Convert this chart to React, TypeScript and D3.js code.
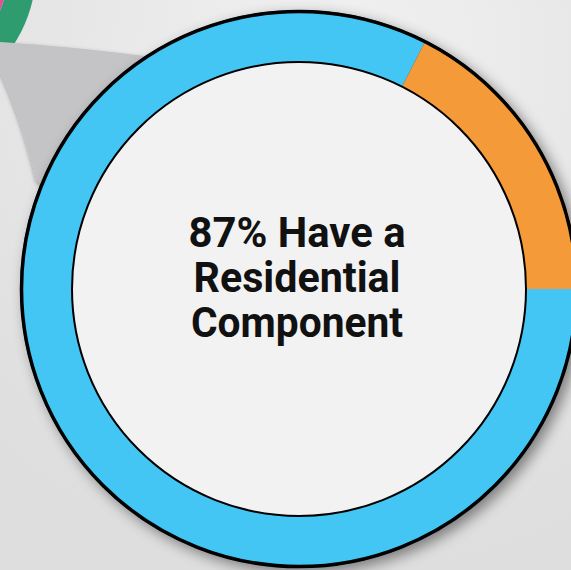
import React from "react";
import * as d3 from "d3";

const categories = ["Residential", "Other"];
const values = [82.5, 17.5];
const colors = ["#43c6f3", "#f59a38"];
const labelLines = ["87% Have a", "Residential", "Component"];
const labelWidths = [217, 207, 212];

const W = 571;
const H = 570;

export default function App() {
  const cx = 299;
  const cy = 289;
  const rOuter = 279;
  const rInner = 227;

  const data = categories.map((c, i) => ({ c, v: values[i], color: colors[i] }));
  const pie = d3
    .pie<any>()
    .value((d) => d.v)
    .sort(null)
    .startAngle(Math.PI / 2)
    .endAngle(Math.PI / 2 + 2 * Math.PI);
  const arcs = pie(data);
  const arcGen = d3.arc<any>().innerRadius(rInner).outerRadius(rOuter);

  const nArc = d3.arc<any>().innerRadius(108).outerRadius(136);

  const lineY = d3.scaleLinear().domain([0, 2]).range([247, 337]);

  return (
    <svg
      width={W}
      height={H}
      style={{ position: "absolute", left: 0, top: 0, display: "block" }}
    >
      <defs>
        <filter id="shadow" x="-20%" y="-20%" width="140%" height="140%">
          <feDropShadow dx="5" dy="5" stdDeviation="7" floodColor="#000" floodOpacity="0.45" />
        </filter>
        <filter id="soft" x="-20%" y="-20%" width="140%" height="140%">
          <feDropShadow dx="0" dy="2" stdDeviation="2" floodColor="#000" floodOpacity="0.35" />
        </filter>
        <radialGradient id="bg" cx="0.6" cy="0.1" r="0.9">
          <stop offset="0" stopColor="#f1f1f1" />
          <stop offset="1" stopColor="#dedede" />
        </radialGradient>
      </defs>
      <rect x={0} y={0} width={W} height={H} fill="url(#bg)" />
      {/* neighbouring ring fragment */}
      <g transform="translate(-100,-30)">
        <path
          d={nArc({ startAngle: Math.PI * 0.3, endAngle: Math.PI * 1.0 }) || ""}
          fill="#2f9c6f"
        />
        <path
          d={d3.arc<any>().innerRadius(96).outerRadius(108)({ startAngle: Math.PI * 0.3, endAngle: Math.PI * 0.7 }) || ""}
          fill="#e3509a"
        />
      </g>
      {/* gray gap region */}
      <path d="M0,42 Q70,46 160,58 L60,200 L36,180 Q22,120 0,72 Z" fill="#c4c4c6" filter="url(#soft)" />
      {/* main donut */}
      <g transform={`translate(${cx},${cy})`}>
        <circle r={rOuter} fill="#333" filter="url(#shadow)" />
        {arcs.map((a, i) => (
          <path key={i} d={arcGen(a) || ""} fill={a.data.color} />
        ))}
        <circle r={rOuter - 1.5} fill="none" stroke="#000" strokeWidth={3.5} />
        <circle r={rInner} fill="#f2f2f2" stroke="#000" strokeWidth={2} />
      </g>
      <g
        fontFamily="'Liberation Sans Narrow', 'Roboto', 'Liberation Sans', sans-serif"
        fontWeight="bold"
        fontSize={43}
        fill="#111"
        textAnchor="middle"
      >
        {labelLines.map((t, i) => (
          <text
            key={i}
            x={297}
            y={lineY(i)}
            textLength={labelWidths[i]}
            lengthAdjust="spacingAndGlyphs"
          >
            {t}
          </text>
        ))}
      </g>
    </svg>
  );
}
